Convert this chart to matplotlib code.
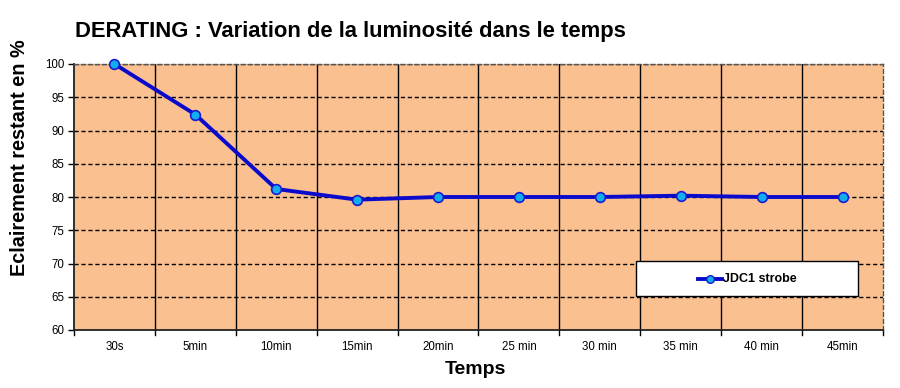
import matplotlib
matplotlib.use("Agg")
import matplotlib.pyplot as plt
from matplotlib.patches import Rectangle
from matplotlib.lines import Line2D

categories = ["30s", "5min", "10min", "15min", "20min", "25 min", "30 min", "35 min", "40 min", "45min"]
values = [100, 92.4, 81.2, 79.6, 80.0, 80.0, 80.0, 80.2, 80.0, 80.0]
yticks = [60, 65, 70, 75, 80, 85, 90, 95, 100]
series_name = "JDC1 strobe"

plt.rcParams['font.family'] = ['Liberation Sans', 'DejaVu Sans']

fig = plt.figure(figsize=(9, 3.88), dpi=100)
ax = fig.add_axes([74/900, 1-330/388, (883-74)/900, (330-64)/388])
ax.set_facecolor("#FAC090")

x = list(range(len(categories)))
ax.set_xlim(-0.5, len(categories) - 0.5)
ax.set_ylim(60, 100)
ax.set_yticks(yticks)
ax.set_yticklabels([str(v) for v in yticks], fontsize=8.3)
ax.set_xticks(x)
ax.set_xticklabels(categories, fontsize=8.3)
ax.tick_params(axis='x', length=0, pad=8)
ax.tick_params(axis='y', length=4, width=1, direction='out', pad=3)

for b in range(1, len(categories)):
    ax.axvline(b - 0.5, color="black", lw=1, zorder=1)
for b in range(0, len(categories) + 1):
    ax.plot([b - 0.5, b - 0.5], [60, 59.3], color="black", lw=1, clip_on=False, zorder=1)
for yv in yticks[1:]:
    ax.axhline(yv, color="black", lw=1, ls=(0, (3, 2)), zorder=1)

for s in ["top", "right"]:
    ax.spines[s].set_linestyle((0, (3, 2)))
    ax.spines[s].set_color("#555555")
    ax.spines[s].set_linewidth(1)
for s in ["left", "bottom"]:
    ax.spines[s].set_color("#222222")
    ax.spines[s].set_linewidth(1.3)

ax.plot(x, values, color="#0A0ACC", lw=2.8, marker="o", ms=7,
        mfc="#10AEEF", mec="#1A1AD0", mew=1.2, zorder=3, clip_on=False)

fig.text(75/900, 1-32/388, "DERATING : Variation de la luminosité dans le temps",
         fontsize=15.8, fontweight="bold", ha="left", va="center")
fig.text(20/900, 1-158/388, "Eclairement restant en %", rotation=90,
         fontsize=14.3, fontweight="bold", ha="center", va="center")
fig.text(475/900, 1-370/388, "Temps", fontsize=14, fontweight="bold",
         ha="center", va="center")

lx0, ly0, lx1, ly1 = 636, 261, 858, 296
fig.patches.append(Rectangle((lx0/900, 1-ly1/388), (lx1-lx0)/900, (ly1-ly0)/388,
                             transform=fig.transFigure, facecolor="white",
                             edgecolor="black", lw=1, zorder=5))
ym = 1 - 279/388
fig.lines.append(Line2D([698/900, 722/900], [ym, ym], transform=fig.transFigure,
                        color="#0A0ACC", lw=2.8, zorder=6))
fig.lines.append(Line2D([710/900], [ym], transform=fig.transFigure, marker="o",
                        ms=5.5, mfc="#10AEEF", mec="#1A1AD0", mew=1, zorder=7))
fig.text(723/900, ym, series_name, fontsize=9, fontweight="bold",
         ha="left", va="center", zorder=8)

fig.savefig("out.png", dpi=100)
